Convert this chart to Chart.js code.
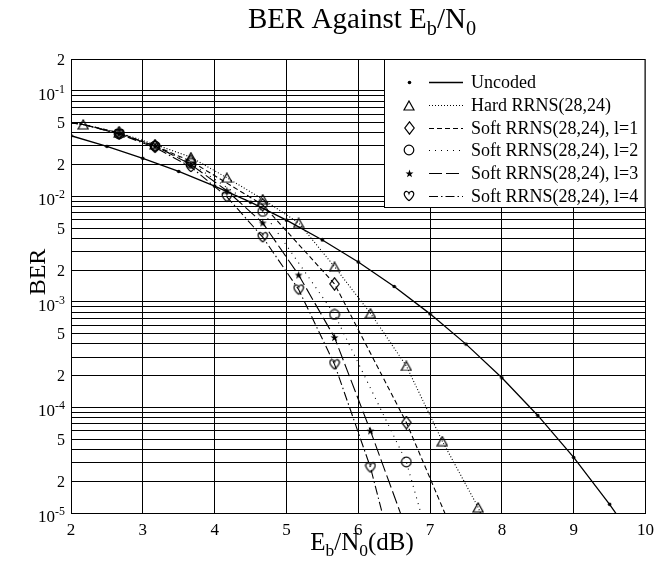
<!DOCTYPE html>
<html>
<head>
<meta charset="utf-8">
<script src="https://cdn.jsdelivr.net/npm/chart.js@4.4.0/dist/chart.umd.min.js"></script>
<style>
html, body { margin: 0; padding: 0; background: #fff; }
</style>
</head>
<body>
<canvas id="berChart" width="661" height="567"></canvas>
<script>
// uncoded BPSK
const ebn0Uncoded = [2, 2.5, 3, 3.5, 4, 4.5, 5, 5.5, 6, 6.5, 7, 7.5, 8, 8.5, 9, 9.5, 10];
const berUncoded = [3.75e-2, 2.97e-2, 2.29e-2, 1.72e-2, 1.25e-2, 8.8e-3, 5.95e-3, 3.86e-3, 2.39e-3, 1.40e-3, 7.7e-4, 3.98e-4, 1.91e-4, 8.4e-5, 3.36e-5, 1.21e-5, 3.9e-6];

// hard decision RRNS(28,24)
const ebn0Hard = [1.67, 2.17, 2.67, 3.17, 3.67, 4.17, 4.67, 5.17, 5.67, 6.17, 6.67, 7.17, 7.67, 8.17];
const berHard = [0.053, 0.048, 0.040, 0.031, 0.0235, 0.015, 0.0094, 0.0056, 0.00215, 7.8e-4, 2.47e-4, 4.8e-5, 1.13e-5, 1.6e-6];

// soft decision, l=1 and l=2
const ebn0Soft12 = [1.67, 2.17, 2.67, 3.17, 3.67, 4.67, 5.67, 6.67, 7.67];
const berSoft1 = [0.053, 0.048, 0.040, 0.030, 0.0215, 0.0083, 0.00148, 7.2e-5, 1.8e-6];
const berSoft2 = [0.053, 0.048, 0.039, 0.030, 0.0205, 0.0072, 7.6e-4, 3.05e-5, 1.2e-7];

// soft decision, l=3 and l=4
const ebn0Soft34 = [1.67, 2.17, 2.67, 3.17, 3.67, 4.17, 4.67, 5.17, 5.67, 6.17, 6.67];
const berSoft3 = [0.053, 0.048, 0.039, 0.030, 0.020, 0.0113, 0.0056, 0.0018, 4.6e-4, 6.0e-5, 7e-6];
const berSoft4 = [0.053, 0.048, 0.039, 0.029, 0.019, 0.0099, 0.0041, 0.00131, 2.56e-4, 2.7e-5, 1.3e-6];

const seriesNames = ['Uncoded', 'Hard RRNS(28,24)', 'Soft RRNS(28,24), l=1', 'Soft RRNS(28,24), l=2', 'Soft RRNS(28,24), l=3', 'Soft RRNS(28,24), l=4'];

// labelled ticks on the BER axis
const yTickValues = [2e-1, 1e-1, 5e-2, 2e-2, 1e-2, 5e-3, 2e-3, 1e-3, 5e-4, 2e-4, 1e-4, 5e-5, 2e-5, 1e-5];

const serif = 'Liberation Serif';

function marker(w, h, draw) {
  const c = document.createElement('canvas');
  c.width = w; c.height = h;
  const g = c.getContext('2d');
  g.strokeStyle = '#000';
  g.fillStyle = '#000';
  g.lineWidth = 1.2;
  draw(g);
  return c;
}

const mDot = marker(5, 5, g => { g.beginPath(); g.arc(2.5, 2.5, 1.8, 0, Math.PI * 2); g.fill(); });
const mTri = marker(12, 11, g => { g.beginPath(); g.moveTo(6, 1); g.lineTo(11, 10); g.lineTo(1, 10); g.closePath(); g.stroke(); });
const mDia = marker(11, 14, g => { g.beginPath(); g.moveTo(5.5, 0.8); g.lineTo(10.2, 7); g.lineTo(5.5, 13.2); g.lineTo(0.8, 7); g.closePath(); g.stroke(); });
const mCirc = marker(12, 12, g => { g.beginPath(); g.arc(6, 6, 4.8, 0, Math.PI * 2); g.stroke(); });
const mStar = marker(9, 9, g => {
  g.beginPath();
  for (let i = 0; i < 10; i++) {
    const r = i % 2 ? 1.7 : 4.2;
    const a = -Math.PI / 2 + i * Math.PI / 5;
    g.lineTo(4.5 + r * Math.cos(a), 4.8 + r * Math.sin(a));
  }
  g.closePath(); g.fill();
});
const mHeart = marker(12, 12, g => {
  g.beginPath();
  g.moveTo(6, 10.8);
  g.bezierCurveTo(1.8, 7.2, 0.6, 4.4, 1.6, 2.6);
  g.bezierCurveTo(2.7, 0.8, 5.2, 1.1, 6, 3.5);
  g.bezierCurveTo(6.8, 1.1, 9.3, 0.8, 10.4, 2.6);
  g.bezierCurveTo(11.4, 4.4, 10.2, 7.2, 6, 10.8);
  g.stroke();
});

const markers = [mDot, mTri, mDia, mCirc, mStar, mHeart];
const dashes = [[], [1, 2], [5, 3], [1, 5], [13, 4], [9, 3, 1.5, 3]];

function pts(xs, ys) { return xs.map((x, i) => ({ x: x, y: ys[i] })); }

function ds(i, xs, ys) {
  return {
    label: seriesNames[i],
    data: pts(xs, ys),
    borderColor: '#000',
    backgroundColor: '#000',
    borderWidth: i === 0 ? 1.3 : 1.1,
    borderDash: dashes[i],
    pointStyle: markers[i],
    // soft curves carry no marker at their first simulated point
    pointRadius: i >= 2 ? ctx => (ctx.dataIndex < 2 ? 0 : 4) : 4,
    tension: 0
  };
}

// text pieces with sub / superscripts
function drawRich(ctx, parts, x, y, size, align) {
  let w = 0;
  parts.forEach(p => {
    ctx.font = (p.k ? size * 0.7 : size) + 'px "' + serif + '"';
    p.w = ctx.measureText(p.t).width;
    w += p.w;
  });
  let cx = align === 'right' ? x - w : x - w / 2;
  parts.forEach(p => {
    ctx.font = (p.k ? size * 0.7 : size) + 'px "' + serif + '"';
    let dy = 0;
    if (p.k === 'sub') dy = size * 0.25;
    if (p.k === 'sup') dy = -size * 0.42;
    ctx.fillText(p.t, cx, y + dy);
    cx += p.w;
  });
}

const textPlugin = {
  id: 'berText',
  afterDraw(chart) {
    const ctx = chart.ctx;
    const ys = chart.scales.y;
    ctx.save();
    ctx.fillStyle = '#000';
    ctx.textAlign = 'left';
    ctx.textBaseline = 'alphabetic';

    yTickValues.forEach(v => {
      const py = ys.getPixelForValue(v);
      const e = Math.floor(Math.log10(v) + 1e-9);
      const m = Math.round(v / Math.pow(10, e));
      if (m === 1) {
        drawRich(ctx, [{ t: '10' }, { t: String(e), k: 'sup' }], 65, py + 9, 17, 'right');
      } else {
        drawRich(ctx, [{ t: String(m) }], 65, py + 5.5, 16, 'right');
      }
    });

    drawRich(ctx, [{ t: 'BER Against E' }, { t: 'b', k: 'sub' }, { t: '/N' }, { t: '0', k: 'sub' }], 362, 28, 29, 'center');
    drawRich(ctx, [{ t: 'E' }, { t: 'b', k: 'sub' }, { t: '/N' }, { t: '0', k: 'sub' }, { t: '(dB)' }], 362, 550, 25, 'center');

    ctx.save();
    ctx.translate(45, 272);
    ctx.rotate(-Math.PI / 2);
    drawRich(ctx, [{ t: 'BER' }], 0, 0, 24, 'center');
    ctx.restore();

    // legend box
    const bx = 384, by = chart.chartArea.top, bw = chart.chartArea.right - 384, bh = 149;
    ctx.fillStyle = '#fff';
    ctx.fillRect(bx, by, bw, bh);
    ctx.strokeStyle = '#000';
    ctx.lineWidth = 1;
    ctx.strokeRect(bx + 0.5, by + 0.5, bw - 1, bh - 1);
    ctx.fillStyle = '#000';
    ctx.font = '18px "' + serif + '"';
    ctx.textBaseline = 'middle';
    seriesNames.forEach((name, i) => {
      const ry = Math.round(by + 23 + i * 22.8);
      const m = markers[i];
      ctx.drawImage(m, Math.round(409 - m.width / 2), Math.round(ry - m.height / 2));
      ctx.beginPath();
      ctx.setLineDash(dashes[i]);
      ctx.lineWidth = i === 0 ? 1.3 : 1.1;
      ctx.moveTo(429, ry + 0.5);
      ctx.lineTo(463, ry + 0.5);
      ctx.stroke();
      ctx.setLineDash([]);
      ctx.fillText(name, 471, ry + 1);
    });
    ctx.restore();
  }
};

function gridValues() {
  const out = [];
  for (let e = -5; e <= -1; e++) {
    for (let m = 1; m <= 9; m++) {
      const v = m * Math.pow(10, e);
      if (v <= 0.2 + 1e-12) out.push({ value: v });
    }
  }
  return out;
}

new Chart(document.getElementById('berChart').getContext('2d'), {
  type: 'line',
  data: {
    datasets: [
      ds(0, ebn0Uncoded, berUncoded),
      ds(1, ebn0Hard, berHard),
      ds(2, ebn0Soft12, berSoft1),
      ds(3, ebn0Soft12, berSoft2),
      ds(4, ebn0Soft34, berSoft3),
      ds(5, ebn0Soft34, berSoft4)
    ]
  },
  options: {
    responsive: false,
    animation: false,
    devicePixelRatio: 1,
    layout: { padding: { left: 0, top: 59, right: 9, bottom: 0 } },
    plugins: { legend: { display: false }, tooltip: { enabled: false } },
    scales: {
      x: {
        type: 'linear',
        min: 2,
        max: 10,
        ticks: { stepSize: 1, color: '#000', font: { family: serif, size: 17 }, padding: 7 },
        grid: { color: '#000', lineWidth: 1, drawTicks: false },
        border: { color: '#000' },
        afterFit: s => { s.height = 54; }
      },
      y: {
        type: 'logarithmic',
        min: 1e-5,
        max: 0.2,
        ticks: { display: false },
        grid: { color: '#000', lineWidth: 1, drawTicks: false },
        border: { color: '#000' },
        afterBuildTicks: s => { s.ticks = gridValues(); },
        afterFit: s => { s.width = 71; }
      }
    }
  },
  plugins: [textPlugin]
});
</script>
</body>
</html>
